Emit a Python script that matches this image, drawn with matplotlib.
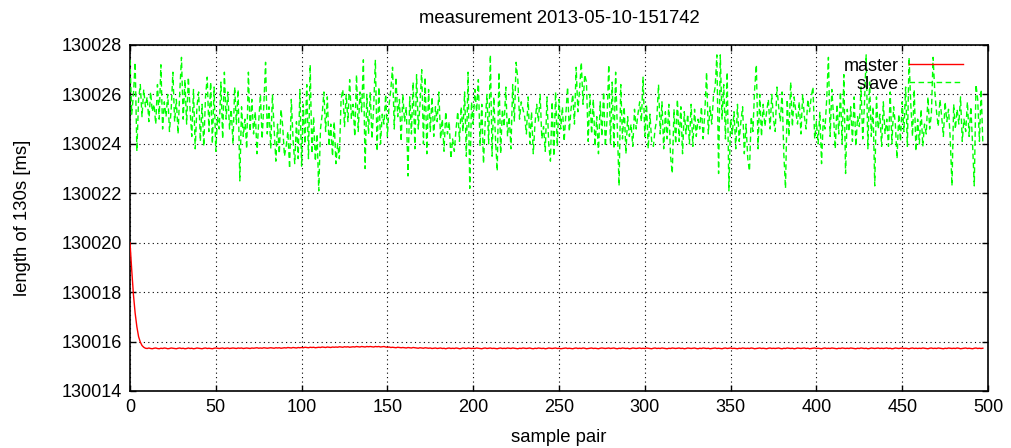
import matplotlib
matplotlib.use("Agg")
import matplotlib.pyplot as plt
import numpy as np

plt.rcParams['font.family'] = ['Liberation Sans', 'DejaVu Sans']

title = "measurement 2013-05-10-151742"
xlabel = "sample pair"
ylabel = "length of 130s [ms]"
base = 130000

slave_str = """
27.4 25.2 26.0 27.3 23.7 25.8 26.4 25.1 26.2 25.5
25.9 24.9 26.1 25.3 25.6 24.8 26.4 25.0 27.2 24.6
25.7 25.1 26.0 24.5 25.4 26.9 24.9 25.8 24.4 26.1
27.5 25.0 26.6 24.8 26.7 25.4 24.3 26.2 23.8 25.5
26.1 24.1 25.6 23.9 25.9 26.7 24.5 26.5 24.0 26.3
23.7 25.1 24.6 26.5 24.2 26.9 25.0 26.1 24.6 25.4
24.0 26.3 24.8 26.2 22.5 25.5 24.3 25.0 23.8 26.9
24.5 25.8 24.4 25.3 23.6 24.9 26.0 24.2 25.6 27.3
24.4 25.5 23.8 26.0 24.6 23.3 24.8 23.6 25.4 24.7
23.5 23.9 24.5 23.0 25.8 24.2 23.2 24.9 23.4 26.2
23.1 25.6 24.0 26.4 23.4 27.2 23.6 25.1 23.3 24.4
22.1 24.6 25.2 26.1 24.5 25.9 23.9 24.8 23.5 24.9
23.2 24.0 23.4 25.8 26.2 24.7 26.0 24.9 26.6 25.0
25.6 24.3 26.8 24.5 26.1 25.3 27.4 23.0 26.0 24.4
26.1 24.2 25.5 27.4 23.7 26.3 24.0 25.2 24.8 26.0
24.3 25.6 26.2 27.1 24.6 26.7 25.1 25.8 24.1 26.0
24.9 25.5 22.7 25.9 24.4 26.5 23.8 26.8 24.6 25.6
27.0 24.0 26.7 23.6 26.2 24.5 25.9 24.3 25.5 24.9
26.1 24.2 25.0 23.7 25.3 24.4 24.9 23.4 24.2 23.7
24.6 25.3 24.1 25.5 24.5 26.1 23.5 26.9 22.2 25.7
24.8 26.2 25.3 26.6 23.9 25.6 23.2 24.9 26.0 24.0
27.6 23.5 25.9 24.2 22.9 26.9 23.6 25.4 24.7 26.3
24.3 25.1 23.8 26.4 24.9 27.3 26.6 25.0 25.7 25.4
25.1 24.4 25.9 24.0 25.3 23.6 24.8 25.6 24.9 26.0
24.2 24.7 23.7 25.9 24.0 23.3 25.7 23.5 26.1 23.9
25.8 24.6 25.5 24.1 25.2 26.3 24.5 25.4 26.0 24.8
27.1 25.3 26.2 27.3 25.6 26.8 26.5 24.1 26.0 24.4
25.8 23.9 25.1 23.6 25.7 24.3 26.1 23.9 25.0 27.2
24.0 26.5 23.8 26.9 24.6 22.3 26.4 24.2 25.5 23.6
25.1 24.3 24.8 23.9 25.4 24.6 25.2 25.7 24.9 26.7
24.3 25.6 23.8 25.2 24.1 23.9 24.6 25.0 26.4 24.4
25.7 23.8 25.3 24.2 25.6 23.5 22.8 25.4 24.0 25.8
24.1 25.5 23.6 25.3 24.4 25.2 24.0 25.6 23.9 25.4
24.3 25.0 24.6 25.5 24.2 25.3 26.9 24.4 25.5 24.8
25.9 26.3 27.6 22.8 27.6 25.0 26.4 24.2 26.9 22.1
25.0 24.4 25.3 23.8 25.6 24.1 24.9 25.5 23.6 24.8
23.4 22.9 25.1 24.5 26.2 27.2 23.8 26.0 24.3 25.6
24.7 25.3 25.8 24.6 26.0 25.0 24.5 26.3 25.5 24.9
26.1 23.6 22.2 25.8 24.3 26.5 24.7 25.9 25.3 24.8
25.7 24.4 26.0 25.1 24.6 25.8 25.3 25.9 26.3 24.2
24.9 24.0 25.3 23.2 25.0 24.6 25.8 27.5 24.3 26.2
25.1 23.8 25.6 24.4 26.1 24.0 26.8 22.8 25.4 24.5
25.5 24.1 25.9 23.9 25.1 24.7 26.3 24.2 25.6 27.6
23.8 26.5 24.3 25.5 22.3 25.9 24.6 25.2 23.9 25.7
24.4 25.0 23.9 26.1 24.0 25.5 24.8 23.4 25.2 24.1
25.7 24.5 26.3 23.9 27.5 25.6 24.3 26.2 23.7 25.0
24.0 25.4 23.9 24.8 24.4 25.9 24.6 25.2 27.5 26.1
25.3 24.7 25.8 25.1 24.3 25.7 24.9 25.4 24.2 22.3
25.6 24.6 25.4 24.8 25.9 24.1 25.0 24.5 25.7 24.3
25.5 24.0 22.3 26.4 25.8 24.1 26.2 24.0
"""

master_str = """
20.00 18.90 17.90 17.15 16.60 16.20 15.98 15.84 15.77 15.73 15.72 15.74 15.72 15.71 15.73 15.74 15.72 15.71 15.73 15.72
15.74 15.73 15.71 15.72 15.74 15.73 15.72 15.71 15.73 15.74 15.72 15.73 15.71 15.72 15.74 15.72 15.73 15.71 15.72 15.74
15.73 15.72 15.71 15.73 15.74 15.72 15.73 15.72 15.71 15.73 15.74 15.73 15.72 15.73 15.74 15.72 15.73 15.74 15.72 15.73
15.74 15.73 15.72 15.74 15.73 15.74 15.72 15.73 15.74 15.73 15.72 15.74 15.73 15.74 15.75 15.73 15.74 15.73 15.75 15.74
15.73 15.74 15.75 15.74 15.73 15.75 15.74 15.75 15.73 15.74 15.75 15.74 15.76 15.75 15.74 15.76 15.75 15.74 15.76 15.75
15.76 15.75 15.77 15.76 15.75 15.77 15.76 15.77 15.75 15.76 15.77 15.76 15.78 15.77 15.76 15.78 15.77 15.76 15.78 15.77
15.78 15.77 15.79 15.78 15.77 15.79 15.78 15.79 15.77 15.78 15.79 15.78 15.80 15.79 15.78 15.80 15.79 15.78 15.80 15.79
15.80 15.79 15.78 15.80 15.79 15.80 15.78 15.79 15.80 15.78 15.77 15.78 15.76 15.77 15.76 15.75 15.77 15.76 15.75 15.76
15.75 15.74 15.76 15.75 15.74 15.76 15.75 15.74 15.73 15.75 15.74 15.73 15.75 15.74 15.73 15.74 15.72 15.73 15.74 15.72
15.73 15.74 15.72 15.73 15.71 15.73 15.74 15.72 15.73 15.72 15.74 15.73 15.71 15.72 15.74 15.73 15.72 15.74 15.73 15.72
15.73 15.72 15.74 15.73 15.72 15.71 15.73 15.74 15.72 15.73 15.74 15.72 15.73 15.72 15.71 15.73 15.74 15.72 15.73 15.72
15.74 15.73 15.72 15.74 15.73 15.72 15.71 15.73 15.72 15.74 15.73 15.72 15.73 15.74 15.72 15.71 15.73 15.72 15.74 15.73
15.72 15.73 15.71 15.72 15.74 15.73 15.72 15.73 15.74 15.72 15.73 15.71 15.72 15.73 15.74 15.72 15.73 15.72 15.71 15.73
15.74 15.72 15.73 15.72 15.74 15.73 15.71 15.72 15.73 15.74 15.72 15.73 15.72 15.71 15.73 15.74 15.73 15.72 15.73 15.74
15.72 15.73 15.74 15.72 15.71 15.73 15.72 15.74 15.73 15.72 15.73 15.71 15.72 15.74 15.73 15.72 15.73 15.74 15.72 15.73
15.72 15.74 15.73 15.72 15.71 15.73 15.74 15.72 15.73 15.72 15.74 15.73 15.72 15.71 15.73 15.72 15.74 15.73 15.72 15.73
15.74 15.72 15.73 15.71 15.72 15.74 15.73 15.72 15.73 15.74 15.72 15.71 15.73 15.72 15.74 15.73 15.72 15.73 15.71 15.72
15.73 15.74 15.72 15.73 15.72 15.71 15.73 15.74 15.72 15.73 15.74 15.72 15.73 15.72 15.71 15.73 15.72 15.74 15.73 15.72
15.73 15.72 15.74 15.73 15.71 15.72 15.73 15.74 15.72 15.73 15.72 15.71 15.73 15.74 15.72 15.73 15.72 15.73 15.74 15.72
15.71 15.73 15.72 15.74 15.73 15.72 15.73 15.71 15.72 15.74 15.73 15.72 15.73 15.74 15.72 15.73 15.71 15.72 15.73 15.74
15.72 15.73 15.72 15.71 15.73 15.74 15.72 15.73 15.72 15.74 15.73 15.72 15.71 15.73 15.72 15.74 15.73 15.72 15.73 15.72
15.74 15.73 15.72 15.71 15.73 15.72 15.74 15.73 15.72 15.73 15.71 15.72 15.74 15.73 15.72 15.73 15.74 15.72 15.73 15.72
15.73 15.74 15.72 15.73 15.71 15.72 15.74 15.73 15.72 15.73 15.74 15.72 15.73 15.72 15.71 15.73 15.74 15.72 15.73 15.72
15.73 15.72 15.74 15.73 15.72 15.71 15.73 15.74 15.72 15.73 15.72 15.74 15.73 15.72 15.71 15.73 15.72 15.74 15.73 15.72
15.73 15.72 15.74 15.73 15.71 15.72 15.73 15.74 15.72 15.73 15.72 15.71 15.73 15.74 15.72 15.73 15.72 15.73
"""

slave = base + np.array([float(v) for v in slave_str.split()])
master = base + np.array([float(v) for v in master_str.split()])
x_slave = np.arange(len(slave))
x_master = np.arange(len(master))

xticks = [0, 50, 100, 150, 200, 250, 300, 350, 400, 450, 500]
yticks = [130014, 130016, 130018, 130020, 130022, 130024, 130026, 130028]

fig = plt.figure(figsize=(10.11, 4.48), dpi=100)
ax = fig.add_axes([130/1011, 1 - 391/448, (988-130)/1011, (391-45)/448])

ax.plot(x_master, master, color='#ff0000', lw=1.0, label='master', zorder=3)
ax.plot(x_slave, slave, color='#00ff00', lw=1.0, dashes=(4, 2.5), label='slave', zorder=3)

ax.set_xlim(0, 500)
ax.set_ylim(130014, 130028)
ax.set_xticks(xticks)
ax.set_yticks(yticks)
ax.set_xticklabels([str(t) for t in xticks])
ax.set_yticklabels([str(t) for t in yticks])
ax.tick_params(direction='in', length=4.5, width=1, top=True, right=True,
               labelsize=13, pad=6, colors='black')
ax.grid(True, color='black', linestyle=(0, (1, 3)), linewidth=0.8)
for sp in ax.spines.values():
    sp.set_linewidth(1.2)

ax.set_title(title, fontsize=13.3, pad=16)
ax.set_xlabel(xlabel, fontsize=13.3, labelpad=9)
ax.set_ylabel(ylabel, fontsize=13.3, labelpad=22)

leg = ax.legend(loc='upper right', bbox_to_anchor=(1 - 12/858, 1.0),
                frameon=False, markerfirst=False,
                fontsize=13, handlelength=3.0, handletextpad=0.6,
                labelspacing=0.05, borderpad=0.3, borderaxespad=0.4)

fig.savefig('out.png', dpi=100)
